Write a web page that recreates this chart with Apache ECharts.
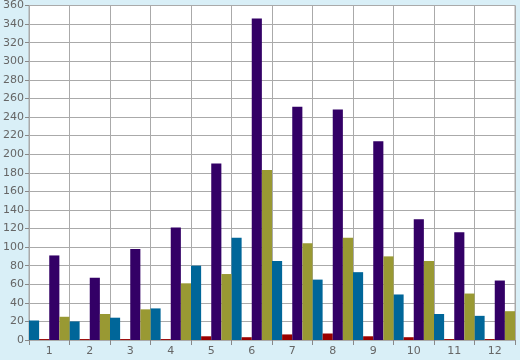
<!DOCTYPE html>
<html>
<head>
<meta charset="utf-8">
<script src="https://cdn.jsdelivr.net/npm/echarts@6/dist/echarts.min.js"></script>
<style>
html,body{margin:0;padding:0;background:#d9eff7;}
#c{width:520px;height:360px;}
</style>
</head>
<body>
<div id="c"></div>
<script>
var categories = ['1','2','3','4','5','6','7','8','9','10','11','12'];
var seriesBlue   = [21, 20, 24, 34, 80, 110, 85, 65, 73, 49, 28, 26];
var seriesRed    = [1, 1, 1, 1, 4, 3, 6, 7, 4, 3, 1, 1];
var seriesPurple = [91, 67, 98, 121, 190, 346, 251, 248, 214, 130, 116, 64];
var seriesOlive  = [25, 28, 33, 61, 71, 183, 104, 110, 90, 85, 50, 31];

var chart = echarts.init(document.getElementById('c'), null, {renderer:'canvas'});
function bar(name, data, color){
  return {name:name, type:'bar', data:data, barGap:'0%', barCategoryGap:'0%',
    itemStyle:{color:color}, animation:false};
}
chart.setOption({
  backgroundColor:'#d9eff7',
  animation:false,
  grid:{left:26, right:5, top:5, bottom:20, show:true, backgroundColor:'#ffffff', borderColor:'#aaaaaa', borderWidth:1},
  xAxis:{type:'category', data:categories, boundaryGap:true,
    axisLine:{show:true, lineStyle:{color:'#aaaaaa', width:1}},
    axisTick:{show:true, length:5, lineStyle:{color:'#888888'}},
    axisLabel:{color:'#666666', fontFamily:'DejaVu Sans', fontSize:11, margin:6},
    splitLine:{show:true, lineStyle:{color:'#aaaaaa', width:1}}},
  yAxis:{type:'value', min:0, max:360, interval:20,
    axisLine:{show:true, lineStyle:{color:'#aaaaaa', width:1}},
    axisTick:{show:true, length:4, lineStyle:{color:'#888888'}},
    axisLabel:{color:'#666666', fontFamily:'DejaVu Sans', fontSize:11, margin:5},
    splitLine:{show:true, lineStyle:{color:'#aaaaaa', width:1}}},
  series:[
    bar('A', seriesBlue, '#006699'),
    bar('B', seriesRed, '#990000'),
    bar('C', seriesPurple, '#330066'),
    bar('D', seriesOlive, '#999933')
  ]
});
</script>
</body>
</html>
